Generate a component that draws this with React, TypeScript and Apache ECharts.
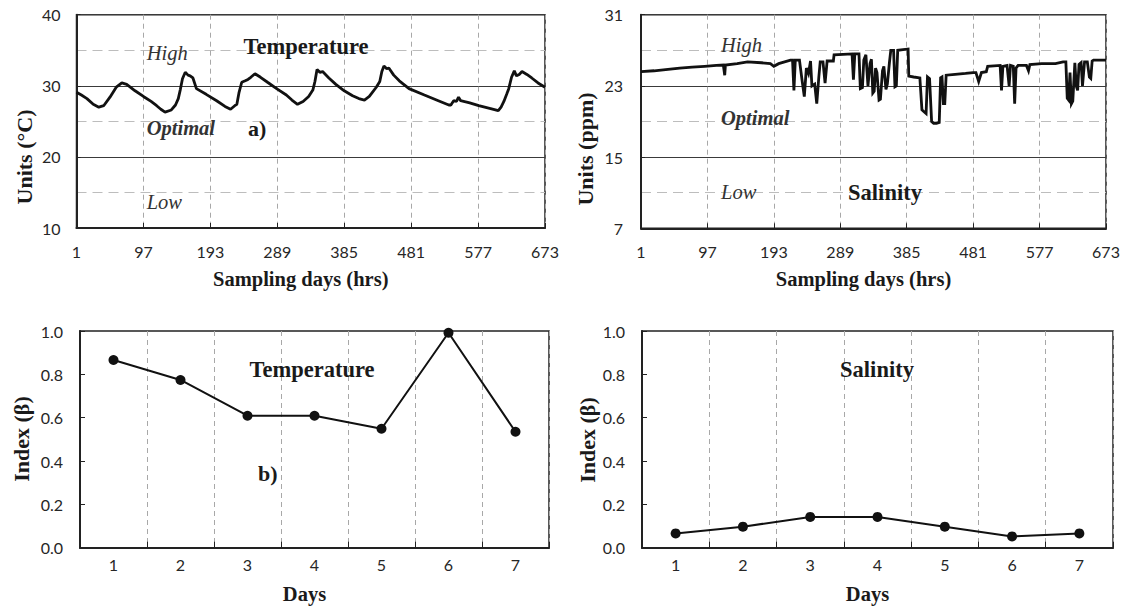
import React, { useEffect, useRef } from "react";
import * as echarts from "echarts";

// ---- Data ----
// Hourly temperature (°C), read as [hour, value] vertices
const temperaturePoints: [number, number][] = [
  [1, 29.1], [8, 28.7], [16, 28.2], [25, 27.4], [33, 27.0], [40, 27.2], [49, 28.4], [58, 29.8],
  [66, 30.4], [73, 30.2], [85, 29.3], [97, 28.5], [108, 27.8], [116, 27.2], [122, 26.7], [128, 26.3],
  [137, 26.6], [143, 27.3], [147, 28.2], [150, 29.5], [153, 31.0], [157, 31.9], [161, 31.5], [164, 31.4],
  [168, 31.1], [173, 29.6], [187, 28.8], [202, 27.9], [214, 27.1], [222, 26.7], [228, 27.2], [231, 27.4],
  [234, 29.0], [238, 30.5], [243, 30.7], [247, 30.9], [251, 31.2], [257, 31.7], [265, 31.2], [275, 30.5],
  [288, 29.6], [302, 28.7], [310, 28.0], [318, 27.4], [326, 27.8], [334, 28.5], [340, 29.4], [343, 30.6],
  [346, 32.3], [350, 31.9], [354, 32.0], [363, 31.1], [373, 30.2], [385, 29.3], [397, 28.6], [406, 28.2],
  [414, 28.0], [421, 28.5], [431, 29.8], [436, 30.6], [439, 32.0], [442, 32.8], [446, 32.4], [449, 32.5],
  [456, 31.5], [464, 30.7], [478, 29.6], [500, 28.7], [520, 27.9], [535, 27.3], [538, 27.3], [542, 27.9],
  [546, 27.8], [549, 28.4], [552, 27.9], [565, 27.6], [578, 27.2], [595, 26.8], [606, 26.5], [610, 27.0],
  [614, 27.8], [618, 28.8], [621, 29.6], [625, 31.2], [629, 32.1], [632, 31.4], [636, 31.6], [640, 32.0],
  [647, 31.6], [654, 31.1], [663, 30.4], [673, 29.8],
];

// Hourly salinity (ppm), read as [hour, value] vertices
const salinityPoints: [number, number][] = [
  [1, 24.6], [20, 24.7], [40, 24.85], [57, 25.0], [75, 25.1], [93, 25.2], [110, 25.3], [120, 25.35],
  [122, 24.2], [123, 25.35], [140, 25.5], [155, 25.7], [175, 25.6], [188, 25.5], [193, 25.2], [200, 25.5],
  [217, 25.9], [220, 25.9], [222, 22.5], [224, 25.9], [230, 25.9], [234, 23.5], [237, 21.8], [240, 25.0],
  [243, 24.4], [246, 25.8], [248, 23.0], [252, 23.2], [255, 21.0], [258, 24.0], [260, 25.7], [264, 25.7],
  [267, 23.3], [270, 25.8], [279, 25.8], [280, 26.5], [306, 26.6], [308, 23.7], [310, 26.6], [316, 26.6],
  [318, 22.7], [321, 22.8], [323, 25.9], [326, 26.5], [329, 23.0], [332, 25.5], [334, 26.0], [336, 22.2],
  [338, 22.4], [340, 25.0], [342, 24.5], [345, 21.4], [347, 21.5], [350, 24.7], [352, 25.2], [355, 22.6],
  [357, 23.2], [360, 25.6], [362, 27.0], [366, 27.0], [368, 22.9], [370, 23.0], [372, 27.0], [387, 27.15],
  [388, 24.1], [395, 24.0], [404, 23.9], [407, 20.3], [410, 20.1], [413, 19.9], [415, 24.0], [418, 23.8],
  [421, 19.0], [424, 18.8], [428, 18.8], [432, 18.9], [434, 23.9], [436, 24.0], [438, 21.0], [440, 21.0],
  [442, 24.2], [455, 24.3], [470, 24.4], [481, 24.5], [485, 24.5], [489, 23.5], [493, 24.5], [500, 24.6],
  [502, 25.2], [520, 25.3], [522, 22.5], [524, 25.2], [530, 25.3], [533, 23.0], [535, 25.3], [539, 25.2],
  [541, 21.0], [543, 25.0], [546, 25.3], [558, 25.3], [561, 24.7], [563, 25.4], [580, 25.5], [600, 25.5],
  [611, 25.7], [615, 25.7], [617, 21.6], [619, 21.4], [621, 24.5], [623, 21.0], [625, 21.3], [628, 25.6],
  [630, 23.0], [632, 22.5], [634, 25.4], [637, 25.6], [639, 23.0], [642, 25.7], [646, 25.7], [649, 24.0],
  [651, 23.85], [653, 25.8], [655, 25.9], [673, 25.9],
];

const days = ["1", "2", "3", "4", "5", "6", "7"];
const temperatureIndex = [0.866, 0.774, 0.609, 0.609, 0.549, 0.992, 0.535];
const salinityIndex = [0.066, 0.097, 0.142, 0.142, 0.097, 0.052, 0.066];

const hourStart = 1; // first sampling hour label
const hourStep = 96;
const hourSpan = 672;
const salinityMin = 7;
const salinityMax = 31;
const salinityStep = 8;

const SERIF = '"Liberation Serif", "Times New Roman", serif';
const SANS = 'Lato, "Open Sans", sans-serif';
const INK = "#1a1a1a";

export default function App() {
  const ref = useRef<HTMLDivElement>(null);

  useEffect(() => {
    if (!ref.current) return;
    const chart = echarts.init(ref.current, undefined, { renderer: "svg" });

    const gridBase = {
      show: true,
      borderColor: "#222",
      borderWidth: 1.5,
      backgroundColor: "transparent",
      containLabel: false,
    };

    const tickLabel = (margin: number) => ({
      fontFamily: SANS,
      fontSize: 16,
      color: "#262626",
      margin,
    });

    const axisLine = { show: true, lineStyle: { color: "#222", width: 2 } };
    const vDash = { show: true, lineStyle: { type: [5, 4], color: "#a8a8a8", width: 1 } };
    const hDash = { show: true, lineStyle: { type: [10, 6], color: "#bdbdbd", width: 1.2 } };
    const xTitle = { fontFamily: SERIF, fontWeight: "bold", fontSize: 20.5, color: INK, padding: [0, 20, 0, 0] };

    const hourAxis = (gridIndex: number) => ({
      gridIndex,
      type: "value",
      min: 0,
      max: hourSpan,
      interval: hourStep,
      axisLine,
      axisTick: { show: true, inside: true, length: 5, lineStyle: { color: "#222" } },
      axisLabel: { ...tickLabel(15), formatter: (v: number) => String(v + hourStart) },
      splitLine: vDash,
      name: "Sampling days (hrs)",
      nameLocation: "middle",
      nameGap: 40,
      nameTextStyle: xTitle,
    });

    const dayAxis = (gridIndex: number) => ({
      gridIndex,
      type: "category",
      data: days,
      boundaryGap: true,
      axisLine,
      axisTick: { show: true, inside: true, length: 6, interval: 0, lineStyle: { color: "#222" } },
      axisLabel: tickLabel(9),
      splitLine: { ...vDash, interval: 0 },
      name: "Days",
      nameLocation: "middle",
      nameGap: 36,
      nameTextStyle: xTitle,
    });

    const indexAxis = (gridIndex: number) => ({
      gridIndex,
      type: "value",
      min: 0,
      max: 1,
      interval: 0.2,
      axisLine,
      axisTick: { show: true, inside: true, length: 5, lineStyle: { color: "#222" } },
      axisLabel: { ...tickLabel(17), formatter: (v: number) => v.toFixed(1) },
      splitLine: { show: false },
    });

    const txt = (
      text: string,
      x: number,
      y: number,
      opts: { size?: number; weight?: string; style?: string; align?: string; color?: string; rotation?: number } = {}
    ) => ({
      type: "text",
      x,
      y,
      rotation: opts.rotation ?? 0,
      z: 100,
      style: {
        text,
        fontFamily: SERIF,
        fontSize: opts.size ?? 20.5,
        fontWeight: opts.weight ?? "normal",
        fontStyle: opts.style ?? "normal",
        fill: opts.color ?? INK,
        align: opts.align ?? "left",
        verticalAlign: "middle",
      },
    });

    const option = {
      animation: false,
      backgroundColor: "#ffffff",
      grid: [
        { ...gridBase, left: 76.5, top: 14.7, width: 468.5, height: 213.3 },
        { ...gridBase, left: 641, top: 14.7, width: 465, height: 213.6 },
        { ...gridBase, left: 80, top: 331, width: 469, height: 216.7 },
        { ...gridBase, left: 642, top: 331, width: 471, height: 216.7 },
      ],
      xAxis: [hourAxis(0), hourAxis(1), dayAxis(2), dayAxis(3)],
      yAxis: [
        {
          gridIndex: 0,
          type: "value",
          min: 10,
          max: 40,
          interval: 10,
          axisLine,
          axisTick: { show: true, inside: true, length: 4, lineStyle: { color: "#222" } },
          axisLabel: tickLabel(16),
          splitLine: { show: true, lineStyle: { color: "#3a3a3a", width: 1 } },
          minorTick: { show: false, splitNumber: 2 },
          minorSplitLine: hDash,
        },
        {
          gridIndex: 1,
          type: "value",
          min: 0,
          max: salinityMax - salinityMin,
          interval: salinityStep,
          axisLine,
          axisTick: { show: true, inside: true, length: 4, lineStyle: { color: "#222" } },
          axisLabel: { ...tickLabel(18), formatter: (v: number) => String(v + salinityMin) },
          splitLine: { show: true, lineStyle: { color: "#3a3a3a", width: 1 } },
          minorTick: { show: false, splitNumber: 2 },
          minorSplitLine: hDash,
        },
        indexAxis(2),
        indexAxis(3),
      ],
      series: [
        {
          name: "Temperature",
          type: "line",
          xAxisIndex: 0,
          yAxisIndex: 0,
          data: temperaturePoints.map(([h, v]) => [h - hourStart, v]),
          showSymbol: false,
          symbol: "none",
          lineStyle: { color: "#111", width: 2.8 },
          z: 5,
        },
        {
          name: "Salinity",
          type: "line",
          xAxisIndex: 1,
          yAxisIndex: 1,
          data: salinityPoints.map(([h, v]) => [h - hourStart, v - salinityMin]),
          showSymbol: false,
          symbol: "none",
          lineStyle: { color: "#111", width: 2.8, join: "miter" },
          z: 5,
        },
        {
          name: "Temperature index",
          type: "line",
          xAxisIndex: 2,
          yAxisIndex: 2,
          data: temperatureIndex,
          symbol: "circle",
          symbolSize: 10,
          itemStyle: { color: "#111" },
          lineStyle: { color: "#111", width: 2 },
          z: 5,
        },
        {
          name: "Salinity index",
          type: "line",
          xAxisIndex: 3,
          yAxisIndex: 3,
          data: salinityIndex,
          symbol: "circle",
          symbolSize: 10,
          itemStyle: { color: "#111" },
          lineStyle: { color: "#111", width: 2 },
          z: 5,
        },
      ],
      graphic: [
        // top-left panel
        txt("High", 146.7, 53, { style: "italic", color: "#333" }),
        txt("Temperature", 306, 46.5, { size: 22.5, weight: "bold", align: "center" }),
        txt("Optimal", 146.7, 128, { style: "italic", weight: "bold", color: "#333" }),
        txt("a)", 248, 128, { size: 22, weight: "bold" }),
        txt("Low", 146.7, 201.5, { style: "italic", color: "#333" }),
        txt("Units (°C)", 24, 157, { size: 22, weight: "bold", align: "center", rotation: Math.PI / 2 }),
        // top-right panel
        txt("High", 721, 45, { style: "italic", color: "#333" }),
        txt("Optimal", 721, 118, { style: "italic", weight: "bold", color: "#333" }),
        txt("Low", 721, 192, { style: "italic", color: "#333" }),
        txt("Salinity", 885, 192, { size: 22.5, weight: "bold", align: "center" }),
        txt("Units (ppm)", 585, 149, { size: 22, weight: "bold", align: "center", rotation: Math.PI / 2 }),
        // bottom-left panel
        txt("Temperature", 312, 369, { size: 22.5, weight: "bold", align: "center" }),
        txt("b)", 258, 473, { size: 22, weight: "bold" }),
        txt("Index (β)", 21, 439, { size: 22, weight: "bold", align: "center", rotation: Math.PI / 2 }),
        // bottom-right panel
        txt("Salinity", 877, 369, { size: 22.5, weight: "bold", align: "center" }),
        txt("Index (β)", 587, 440, { size: 22, weight: "bold", align: "center", rotation: Math.PI / 2 }),
      ],
    };

    chart.setOption(option as any);
    return () => chart.dispose();
  }, []);

  return (
    <div
      ref={ref}
      style={{ position: "absolute", left: 0, top: 0, width: 1124, height: 611, background: "#fff" }}
    />
  );
}
